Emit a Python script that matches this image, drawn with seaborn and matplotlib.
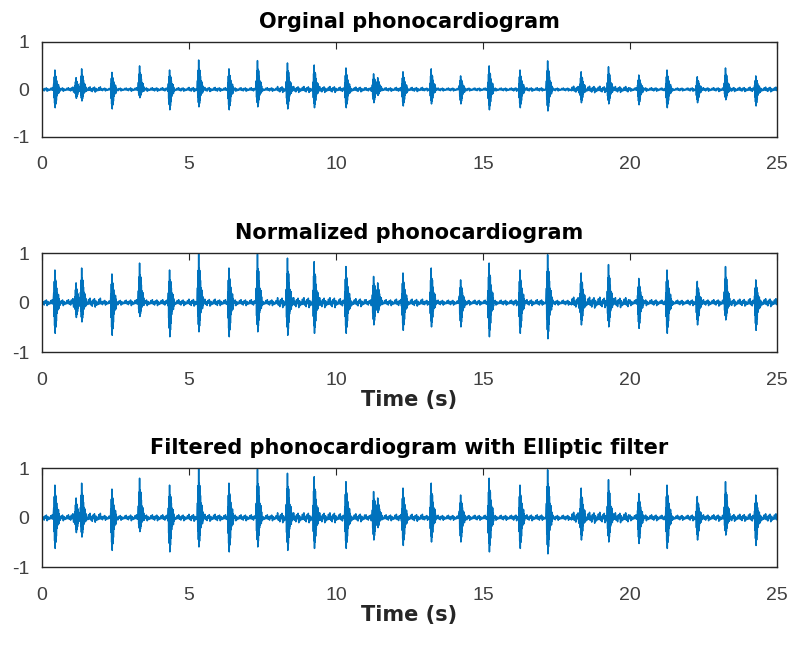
import pandas as pd
import seaborn as sns
import matplotlib.pyplot as plt

# heart sound bursts (seconds, peak, trough)
beat_times = [0.44, 1.16, 1.35, 2.38, 3.32, 4.34, 5.33, 6.36, 7.33, 8.35, 9.26,
              10.34, 11.28, 11.42, 12.28, 13.24, 14.24, 15.21, 16.26, 17.20,
              18.34, 19.27, 20.30, 21.26, 22.29, 23.25, 24.28]
beat_peaks = [0.66, 0.40, 0.70, 0.58, 0.80, 0.66, 1.00, 0.70, 0.98, 0.90, 0.83,
              0.73, 0.53, 0.40, 0.60, 0.70, 0.46, 0.80, 0.66, 0.97,
              0.60, 0.77, 0.49, 0.66, 0.43, 0.73, 0.46]
beat_troughs = [-0.62, -0.30, -0.39, -0.66, -0.28, -0.69, -0.59, -0.69, -0.59, -0.66, -0.62,
                -0.62, -0.45, -0.20, -0.56, -0.49, -0.49, -0.69, -0.62, -0.73,
                -0.45, -0.49, -0.52, -0.62, -0.45, -0.35, -0.56]
# baseline noise level for each second of the recording
noise_level = [0.06, 0.09, 0.05, 0.06, 0.06, 0.07, 0.06, 0.06, 0.10, 0.10,
               0.08, 0.06, 0.07, 0.05, 0.05, 0.05, 0.06, 0.05, 0.11, 0.10,
               0.06, 0.05, 0.06, 0.07, 0.08]
orig_peak = 0.62  # max |amplitude| of the raw recording

burst_shape = [0.3, -0.45, 0.65, -0.75, 1.0, -1.0, 0.7, -0.8, 0.65, -0.6,
               0.45, -0.35, 0.3, -0.25, 0.2, -0.15, 0.25, -0.2, 0.12, -0.1]
noise_shape = [1.0, -0.5, 0.3, -0.8, 0.6, -0.2, 0.9, -1.0, 0.4, -0.6, 0.1, -0.4, 0.7, -0.3]
burst_step = 0.01
noise_step = 0.025
duration = 25

titles = ["Orginal phonocardiogram", "Normalized phonocardiogram",
          "Filtered phonocardiogram with Elliptic filter"]
xticks = [0, 5, 10, 15, 20, 25]
yticks = [-1, 0, 1]


def build_trace():
    t_out, y_out = [], []
    t, k = 0.0, 0
    lead = burst_step * 4

    def add_noise(until):
        nonlocal t, k
        while t < until:
            lvl = noise_level[min(int(t), len(noise_level) - 1)]
            t_out.append(t)
            y_out.append(lvl * noise_shape[k % len(noise_shape)])
            t += noise_step
            k += 1

    for bt, pk, tr in zip(beat_times, beat_peaks, beat_troughs):
        add_noise(bt - lead)
        for j, f in enumerate(burst_shape):
            t_out.append(bt - lead + j * burst_step)
            y_out.append(f * pk if f > 0 else f * abs(tr))
        t = bt - lead + len(burst_shape) * burst_step
    add_noise(duration)
    return pd.DataFrame({"time": t_out, "amp": y_out})


normalized = build_trace()
original = normalized.assign(amp=normalized["amp"] * orig_peak)
filtered = normalized.copy()

sns.set_style("white")
plt.rcParams['font.family'] = ['Liberation Sans', 'DejaVu Sans']
plt.rcParams['axes.unicode_minus'] = False

fig = plt.figure(figsize=(7.92, 6.46), dpi=100)
positions = [[0.053, 0.788, 0.928, 0.147],
             [0.053, 0.455, 0.928, 0.153],
             [0.053, 0.122, 0.928, 0.153]]

for i, (df, title) in enumerate(zip([original, normalized, filtered], titles)):
    ax = fig.add_axes(positions[i])
    sns.lineplot(data=df, x="time", y="amp", estimator=None, sort=False,
                 color="#0072BD", linewidth=1.1, ax=ax)
    ax.set_xlim(0, 25)
    ax.set_ylim(-1, 1)
    ax.set_xticks(xticks)
    ax.set_yticks(yticks)
    ax.set_ylabel("")
    if i > 0:
        ax.set_xlabel("Time (s)", fontsize=15, fontweight="bold",
                      family="DejaVu Sans", color="#262626", labelpad=1)
    else:
        ax.set_xlabel("")
    ax.set_title(title, fontsize=15, fontweight="bold", family="DejaVu Sans",
                 color="black", pad=10)
    ax.tick_params(direction="in", length=5, width=0.8, top=True, right=True,
                   labelsize=14, labelcolor="#404040", color="#262626", pad=14)
    ax.tick_params(axis="y", pad=9)
    for s in ax.spines.values():
        s.set_color("#262626")
        s.set_linewidth(1.0)

plt.savefig("out.png", dpi=100)
